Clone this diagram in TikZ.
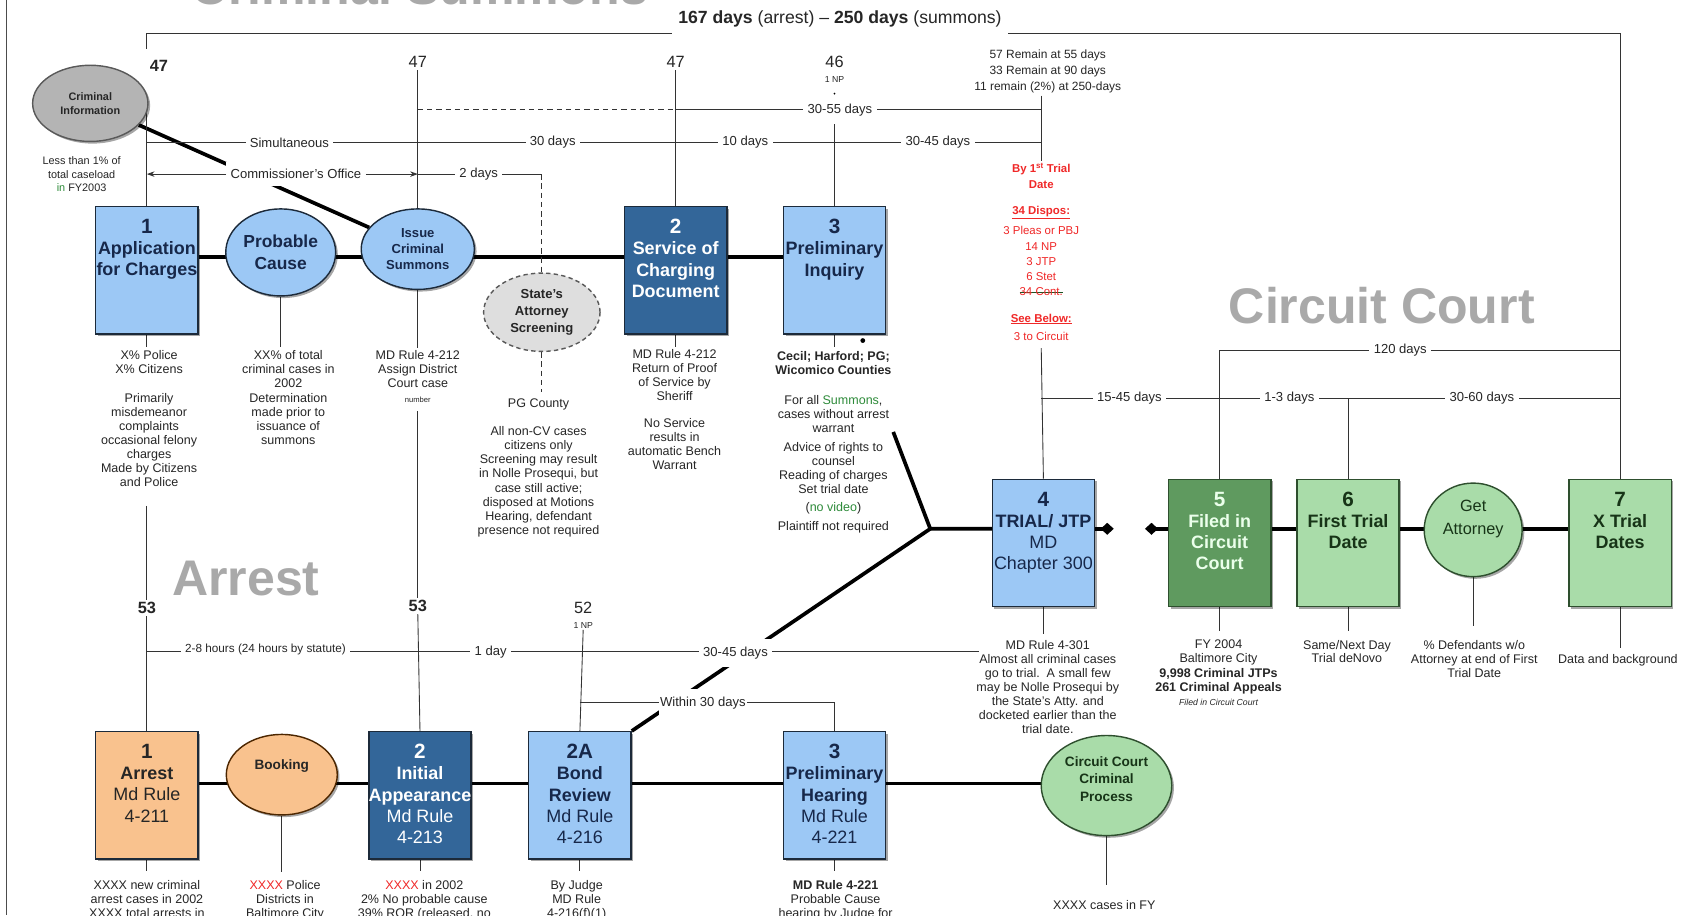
\documentclass[tikz,border=0pt]{standalone}
\usepackage{fontspec}
\setmainfont{Liberation Sans}
\usetikzlibrary{arrows.meta,shapes.geometric,shadows}

\pgfdeclarelayer{paper}
\pgfdeclarelayer{wires}
\pgfsetlayers{paper,wires,main}

\definecolor{lblue}{HTML}{9CC8F5}
\definecolor{dblue}{HTML}{336699}
\definecolor{navy}{HTML}{17284A}
\definecolor{orng}{HTML}{F9C28E}
\definecolor{lgreen}{HTML}{A9DCA9}
\definecolor{dgreen}{HTML}{5F9A5F}
\definecolor{gline}{HTML}{2E4F2E}
\definecolor{gtext}{HTML}{173417}
\definecolor{bline}{HTML}{1C2A3A}
\definecolor{wmark}{HTML}{A9A9A9}
\definecolor{redtxt}{HTML}{F02828}
\definecolor{grntxt}{HTML}{2E8B3A}
\definecolor{ciGray}{HTML}{B4B4B4}
\definecolor{saGray}{HTML}{DEDEDE}
\definecolor{inktxt}{HTML}{262626}

\newcommand\fs[2]{\fontsize{#1}{#2}\selectfont}
\newcommand\rtxt[1]{\textcolor{redtxt}{#1}}
\newcommand\gtxt[1]{\textcolor{grntxt}{#1}}
\newcommand\strk[1]{\setbox0\hbox{#1}\rlap{\textcolor{grntxt!60!black}{\rule[0.3em]{\wd0}{0.6pt}}}\box0}
\newcommand\boxlabel[3]{\node[boxtext,text=#2] (#1-t) at ([yshift=-12pt]#1.north) {#3};}

\tikzset{
  boxshadow/.style={drop shadow={shadow xshift=2pt,shadow yshift=-2pt,opacity=.35,fill=black}},
  stepbox/.style={rectangle,draw=bline,line width=1.3pt,minimum width=94pt,minimum height=117pt,inner sep=0pt,boxshadow},
  lightbox/.style={stepbox,fill=lblue},
  darkbox/.style={stepbox,fill=dblue},
  orangebox/.style={stepbox,fill=orng},
  greenbox/.style={stepbox,fill=lgreen,draw=gline},
  deepgreenbox/.style={stepbox,fill=dgreen,draw=gline},
  oval/.style={ellipse,draw=bline,line width=1.3pt,inner sep=0pt,align=center,boxshadow},
  boxtext/.style={anchor=north,align=center,inner sep=0pt,font=\bfseries\fs{16.5}{19.5}},
  note/.style={anchor=north,align=center,inner sep=0pt,font=\fs{11.5}{13},text=inktxt},
  tl/.style={draw=black!80,line width=0.8pt},
  tldash/.style={tl,dash pattern=on 5pt off 3.5pt},
  flow/.style={draw=black,line width=3.4pt},
  lbl/.style={fill=white,inner xsep=4pt,inner ysep=7pt,font=\fs{12}{13},text=inktxt},
  count/.style={inner sep=2pt,font=\fs{15}{16},text=inktxt},
  watermark/.style={anchor=base,inner sep=0pt,font=\bfseries\fs{46}{50},text=wmark},
}

\begin{document}
\begin{tikzpicture}[x=1pt,y=-1pt]
\useasboundingbox (0,0) rectangle (1568,841);
\begin{pgfonlayer}{paper}
  \fill[white] (0,0) rectangle (1568,841);
\end{pgfonlayer}
\clip (0,0) rectangle (1568,841);

% section headings
\node[watermark] (hSum) at (386,4) {Criminal Summons};
\node[watermark] (hCirc) at (1270,297) {Circuit Court};
\node[watermark] (hArr) at (226,547) {Arrest};

% page frame edge
\draw[black!70,line width=1.6pt] (6,0) -- (6,841);

% ---------- summons track
\node[oval,fill=ciGray,draw=black!65,minimum width=106pt,minimum height=70pt,font=\bfseries\fs{10}{12.5},text=inktxt] (ci) at (83,95) {Criminal\\Information};
\node[lightbox] (b1) at (135,248.5) {};
\boxlabel{b1}{navy}{{\fs{19}{20}1}\\Application\\for Charges}
\node[oval,fill=lblue,minimum width=101pt,minimum height=80pt,font=\bfseries\fs{16}{20},text=navy] (pc) at (258,232) {Probable\\Cause};
\node[oval,fill=lblue,minimum width=104pt,minimum height=74pt,font=\bfseries\fs{12}{14.5},text=navy] (ics) at (384,229) {Issue\\Criminal\\Summons};
\node[ellipse,fill=saGray,draw=black!65,line width=1.3pt,dash pattern=on 4pt off 3pt,inner sep=0pt,align=center,minimum width=107pt,minimum height=72pt,font=\bfseries\fs{12}{15.5},text=inktxt] (sa) at (498,287) {State's\\Attorney\\Screening};
\node[darkbox] (b2) at (621,248.5) {};
\boxlabel{b2}{white}{{\fs{19}{20}2}\\Service of\\Charging\\Document}
\node[lightbox] (b3) at (767,248.5) {};
\boxlabel{b3}{navy}{{\fs{19}{20}3}\\Preliminary\\Inquiry}

% ---------- circuit court track
\node[lightbox] (b4) at (959,499) {};
\boxlabel{b4}{navy}{{\fs{19}{20}4}\\TRIAL/ JTP\\{\mdseries MD}\\{\mdseries Chapter 300}}
\node[deepgreenbox] (b5) at (1121,499) {};
\boxlabel{b5}{green!8}{{\fs{19}{20}5}\\Filed in\\Circuit\\Court}
\node[greenbox] (b6) at (1239,499) {};
\boxlabel{b6}{gtext}{{\fs{19}{20}6}\\First Trial\\Date}
\node[oval,fill=lgreen,draw=gline,minimum width=90pt,minimum height=86pt] (ga) at (1354,487) {};
\node[align=center,inner sep=0pt,font=\fs{15}{21},text=gtext] (ga-t) at (1354,477) {Get\\Attorney};
\node[greenbox] (b7) at (1489,499) {};
\boxlabel{b7}{gtext}{{\fs{19}{20}7}\\X Trial\\Dates}

% ---------- arrest track
\node[orangebox] (a1) at (135,731) {};
\boxlabel{a1}{inktxt}{{\fs{19}{20}1}\\Arrest\\{\mdseries Md Rule}\\{\mdseries 4-211}}
\node[oval,fill=orng,draw=black!70!orange,minimum width=102pt,minimum height=74pt] (bk) at (259,712) {};
\node[inner sep=0pt,font=\bfseries\fs{12.5}{14},text=inktxt] (bk-t) at (259,704) {Booking};
\node[darkbox] (a2) at (386,731) {};
\boxlabel{a2}{white}{{\fs{19}{20}2}\\Initial\\Appearance\\{\mdseries Md Rule}\\{\mdseries 4-213}}
\node[lightbox] (a2A) at (533,731) {};
\boxlabel{a2A}{navy}{{\fs{19}{20}2A}\\Bond\\Review\\{\mdseries Md Rule}\\{\mdseries 4-216}}
\node[lightbox] (a3) at (767,731) {};
\boxlabel{a3}{navy}{{\fs{19}{20}3}\\Preliminary\\Hearing\\{\mdseries Md Rule}\\{\mdseries 4-221}}
\node[oval,fill=lgreen,draw=gline,minimum width=120pt,minimum height=92pt] (cc) at (1017,722) {};
\node[align=center,inner sep=0pt,font=\bfseries\fs{12.5}{16},text=gtext] (cc-t) at (1017,716) {Circuit Court\\Criminal\\Process};

% ---------- case counts
\node[count,font=\bfseries\fs{15}{16}] (n47a) at (146,61) {47};
\node[count] (n47b) at (384,57) {47};
\node[count] (n47c) at (621,57) {47};
\node[count] (n46) at (767,57) {46};
\node[inner sep=1pt,font=\fs{8}{9},text=inktxt] (n46np) at (767,73) {1 NP};
\node[count,font=\bfseries\fs{15}{16}] (n53a) at (135,559) {53};
\node[count,font=\bfseries\fs{15}{16}] (n53b) at (384,557) {53};
\node[count] (n52) at (536,559) {52};
\node[inner sep=1pt,font=\fs{8}{9},text=inktxt] (n52np) at (536,575) {1 NP};

\node[inner sep=6pt,font=\fs{16.2}{17},text=inktxt] (span) at (772,17) {{\bfseries 167 days} (arrest) -- {\bfseries 250 days} (summons)};
\node[note,font=\fs{11}{14.5}] (remain) at (963,46) {57 Remain at 55 days\\33 Remain at 90 days\\11 remain (2\%) at 250-days};
\node[note,font=\fs{10.5}{14},text=redtxt] (dispo) at (957,150) {{\bfseries By 1\textsuperscript{st} Trial}\\{\bfseries Date}\\[10pt]{\bfseries\underline{34 Dispos:}}\\[5pt]3 Pleas or PBJ\\14 NP\\3 JTP\\6 Stet\\\strk{34 Cont.}\\[10pt]{\bfseries\underline{See Below:}}\\[3pt]3 to Circuit};

% ---------- notes under the steps
\node[note,font=\fs{10}{12.5}] (ci-n) at (75,144) {Less than 1\% of\\total caseload\\\gtxt{in} FY2003};
\node[note] (b1-n) at (137,322) {X\% Police\\X\% Citizens\\[13pt]Primarily\\misdemeanor\\complaints\\occasional felony\\charges\\Made by Citizens\\and Police};
\node[note] (pc-n) at (265,322) {XX\% of total\\criminal cases in\\2002\\Determination\\made prior to\\issuance of\\summons};
\node[note] (ics-n) at (384,322) {MD Rule 4-212\\Assign District\\Court case\\{\fs{7}{8}number}};
\node[note] (sa-n) at (495,366) {PG County\\[13pt]All non-CV cases\\citizens only\\Screening may result\\in Nolle Prosequi, but\\case still active;\\disposed at Motions\\Hearing, defendant\\presence not required};
\node[note] (b2-n) at (620,321) {MD Rule 4-212\\Return of Proof\\of Service by\\Sheriff\\[11pt]No Service\\results in\\automatic Bench\\Warrant};
\node[note] (b3-n) at (766,323) {{\bfseries Cecil; Harford; PG;}\\{\bfseries Wicomico Counties}\\[14pt]For all \gtxt{Summons},\\cases without arrest\\warrant\\[4pt]Advice of rights to\\counsel\\Reading of charges\\Set trial date\\[4pt](\gtxt{no video})\\[4pt]Plaintiff not required};

\node[note] (b4-n) at (963,588) {MD Rule 4-301\\Almost all criminal cases\\go to trial.\ \ A small few\\may be Nolle Prosequi by\\the State's Atty. and\\docketed earlier than the\\trial date.};
\node[note] (b5-n) at (1120,588) {FY 2004\\Baltimore City\\{\bfseries 9,998 Criminal JTPs}\\{\bfseries 261 Criminal Appeals}\\{\itshape\fs{8}{9}Filed in Circuit Court}};
\node[note,font=\fs{11.5}{12}] (b6-n) at (1238,588) {Same/Next Day\\Trial deNovo};
\node[note] (ga-n) at (1355,588) {\% Defendants w/o\\Attorney at end of First\\Trial Date};
\node[note] (b7-n) at (1487,601) {Data and background};

\node[note] (a1-n) at (135,809) {XXXX new criminal\\arrest cases in 2002\\XXXX total arrests in};
\node[note] (bk-n) at (262,809) {\rtxt{XXXX} Police\\Districts in\\Baltimore City};
\node[note] (a2-n) at (390,809) {\rtxt{XXXX} in 2002\\2\% No probable cause\\39\% ROR (released, no};
\node[note] (a2A-n) at (530,809) {By Judge\\MD Rule\\4-216(f)(1)};
\node[note] (a3-n) at (768,809) {{\bfseries MD Rule 4-221}\\Probable Cause\\hearing by Judge for};
\node[note] (cc-n) at (1015,827) {XXXX cases in FY};

% ---------- timeline anchor points
\coordinate (brL) at (135,31);
\coordinate (brR) at (1489,31);
\coordinate (tick) at (135,45);
\coordinate (ciV) at (135,86);
\coordinate (v46) at (767,110);
\coordinate (d30L) at (384,101);
\coordinate (d30M) at (621,101);
\coordinate (d30R) at (957,101);
\coordinate (rT) at (957,88);
\coordinate (rB) at (957,148);
\coordinate (simL) at (135,131);
\coordinate (simR) at (957,131);
\coordinate (comL) at (135,160);
\coordinate (comM) at (384,160);
\coordinate (comR) at (498,160);
\coordinate (saB) at (498,360);
\coordinate (v1a) at (135,465);
\coordinate (v2a) at (384,378);
\coordinate (hrL) at (135,599);
\coordinate (hrR) at (900,599);
\coordinate (w30) at (533,646);
\coordinate (J) at (855,486);
\coordinate (U) at (821,397);
\coordinate (rv) at (957,320);
\coordinate (c120) at (1121,322);
\coordinate (c15) at (957,366);

\begin{pgfonlayer}{wires}
  % heavy process flow
  \draw[flow] (b1.center |- 0,236) -- (b3.center |- 0,236);
  \draw[flow] (ci) -- (ics);
  \draw[flow] (U) -- (J) -- (b4.center |- J);
  \draw[flow] (J) -- (a2A.north east);
  \draw[flow] (a1.center |- 0,720) -- (cc.center |- 0,720);
  \draw[flow] (b5.center |- J) -- (b7.center |- J);
  \draw[flow,-{Diamond[length=12pt,width=11pt]}] (b4.east |- J) -- ++(17,0);
  \draw[flow,-{Diamond[length=12pt,width=11pt]}] (b5.west |- J) -- ++(-21,0);

  % elapsed-time brackets
  \draw[tl] (tick) -- (brL) -- (brL -| span.west);
  \draw[tl] (brR -| span.east) -- (brR) -- (b7.north);
  \draw[tl] (ciV) -- (b1.north);
  \draw[tl] (n47b.south) -- (ics.north);
  \draw[tl] (n47c.south) -- (b2.north);
  \draw[tl] (v46) -- (b3.north);
  \draw[tldash] (d30L) -- (d30M);
  \draw[tl] (d30M) -- (d30R);
  \draw[tl] (rT) -- (rB);
  \draw[tl] (simL) -- (simR);
  \draw[tl] (comM) -- (comR);
  \draw[tldash] (comR) -- (sa.north);
  \draw[tldash] (sa.south) -- (saB);

  \draw[tl] (b1.south) -- ++(0,11);
  \draw[tl] (pc.south) -- ++(0,46);
  \draw[tl] (ics.south) -- ++(0,53);
  \draw[tl] (b2.south) -- ++(0,11);
  \draw[tl] (b3.south) -- ++(0,11);
  \draw[tl] (v1a) -- (n53a.north);
  \draw[tl] (n53a.south) -- (a1.north);
  \draw[tl] (v2a) -- (n53b.north);
  \draw[tl] (n53b.south) -- (a2.north);
  \draw[tl] (hrL) -- (hrR);
  \draw[tl] (n52np.south) -- (a2A.north);
  \draw[tl] (w30) -- (w30 -| a3.north) -- (a3.north);
  \draw[tl] (a1.south) -- ++(0,10);
  \draw[tl] (bk.south) -- ++(0,52);
  \draw[tl] (a2.south) -- ++(0,10);
  \draw[tl] (a2A.south) -- ++(0,10);
  \draw[tl] (a3.south) -- ++(0,10);
  \draw[tl] (cc.south) -- ++(0,45);

  \draw[tl] (rv) -- (b4.north);
  \draw[tl] (c120) -- (c120 -| b7.north);
  \draw[tl] (c120) -- (b5.north);
  \draw[tl] (c15) -- (c15 -| b7.north);
  \draw[tl] (c15 -| b6.north) -- (b6.north);
  \draw[tl] (b4.south) -- ++(0,25);
  \draw[tl] (b5.south) -- ++(0,22);
  \draw[tl] (b6.south) -- ++(0,22);
  \draw[tl] (ga.south) -- ++(0,45);
  \draw[tl] (b7.south) -- ++(0,37);

  % interval labels
  \node[lbl] (lSim) at (266,131) {Simultaneous};
  \node[lbl] (l30) at (508,131) {30 days};
  \node[lbl] (l10) at (685,131) {10 days};
  \node[lbl] (l3045a) at (862,131) {30-45 days};
  \node[lbl] (l3055) at (772,101) {30-55 days};
  \node[lbl] (lCom) at (272,160) {Commissioner's Office};
  \draw[tl,-{Stealth[length=7pt,width=5pt]}] (lCom.west) -- (comL);
  \draw[tl,-{Stealth[length=7pt,width=5pt]}] (lCom.east) -- (comM);
  \node[lbl] (l2d) at (440,160) {2 days};
  \node[lbl,font=\fs{10.8}{12}] (lhrs) at (244,597) {2-8 hours (24 hours by statute)};
  \node[lbl] (l1d) at (451,599) {1 day};
  \node[lbl] (l3045b) at (676,600) {30-45 days};
  \node[lbl,inner xsep=1pt] (lw30) at (646,646) {Within 30 days};
  \node[lbl] (l120) at (1287,322) {120 days};
  \node[lbl] (l1545) at (1038,366) {15-45 days};
  \node[lbl] (l13) at (1185,366) {1-3 days};
  \node[lbl] (l3060) at (1362,366) {30-60 days};
\end{pgfonlayer}

% stray marks beside preliminary inquiry
\fill[black] (793,313) circle (2.2pt);
\fill[black] (767,86) circle (0.9pt);
\end{tikzpicture}
\end{document}
